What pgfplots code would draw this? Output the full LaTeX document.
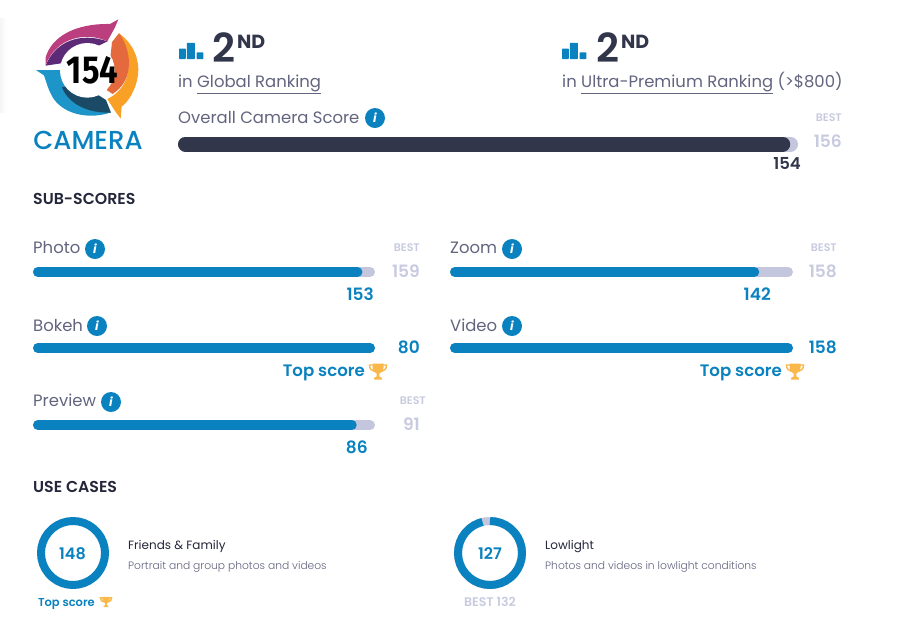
\documentclass[border=0pt]{standalone}
\usepackage{fontspec}
\usepackage{pgfplots}
\pgfplotsset{compat=1.18}
\usepgfplotslibrary{polar}
\usetikzlibrary{calc}
\setmainfont{Poppins}
\newfontfamily\plight{Poppins Light}
\newfontfamily\pmed{Poppins Medium}
\newfontfamily\psemi{Poppins SemiBold}
\newfontfamily\pbold{Poppins Bold}
\newfontfamily\logofont{Fira Sans}
\definecolor{cblue}{HTML}{0A82BF}
\definecolor{cdark}{HTML}{32364A}
\definecolor{chead}{HTML}{24263A}
\definecolor{ctrack}{HTML}{C3C6DD}
\definecolor{cbest}{HTML}{C8CBE0}
\definecolor{ctext}{HTML}{63647F}
\definecolor{cgold}{HTML}{FBB84A}
\definecolor{lteal}{HTML}{1E95C8}
\definecolor{lnavy}{HTML}{1B4A66}
\definecolor{lmag}{HTML}{BB3F7E}
\definecolor{lpur}{HTML}{5D2A77}
\definecolor{lyel}{HTML}{F8A126}
\definecolor{lcor}{HTML}{E46A3D}
\newcommand{\fs}[1]{\fontsize{#1}{#1}\selectfont}
% x, y (centre line), length between cap centres, thickness, best, value, colour
\newcommand{\scorebar}[7]{%
\begin{axis}[at={(#1pt,-#2pt)},anchor=west,scale only axis,width=#3pt,height=4pt,
  hide axis,clip=false,xmin=0,xmax=#5,ymin=0,ymax=1]
  \addplot[line width=#4pt,color=ctrack,line cap=round] coordinates {(0,0.5) (#5,0.5)};
  \addplot[line width=#4pt,color=#7,line cap=round] coordinates {(0,0.5) (#6,0.5)};
\end{axis}}
\newcommand{\info}[2]{%
  \fill[cblue] (#1,#2) circle (10);
  \node[text=white,font=\fs{12}\bfseries\itshape] at (#1,#2) {i};}
\newcommand{\lab}[4][ctext]{\node[anchor=base west,inner sep=0pt,text=#1,font=\fs{#4}] at (#2) {#3};}
\newcommand{\slab}[3]{\node[anchor=base west,inner sep=0pt,text=ctext,font=\plight\fs{#3}] at (#1) {#2};}
\newcommand{\rnum}[4]{\node[anchor=base east,inner sep=0pt,text=#1,font=\psemi\fs{#4}] at (#2) {#3};}
\newcommand{\trophy}[3]{%
\begin{scope}[shift={(#1,#2)},scale=#3]
  \draw[cgold,line width=1.4pt] (-5,-6.5) -- (-8.5,-6.5) .. controls (-8.5,-2.5) and (-6.5,-1) .. (-3.5,0);
  \draw[cgold,line width=1.4pt] (5,-6.5) -- (8.5,-6.5) .. controls (8.5,-2.5) and (6.5,-1) .. (3.5,0);
  \fill[cgold] (-5.5,-8) -- (5.5,-8) -- (5.5,-4) .. controls (5.5,0) and (2,1.5) .. (1.3,2) -- (1.3,5) -- (3.8,6.3) -- (3.8,8) -- (-3.8,8) -- (-3.8,6.3) -- (-1.3,5) -- (-1.3,2) .. controls (-2,1.5) and (-5.5,0) .. (-5.5,-4) -- cycle;
\end{scope}}
\newcommand{\rankicon}[2]{%
  \fill[cblue,rounded corners=0.6pt] (#1,#2+16) rectangle ++(6.8,-10.5);
  \fill[cblue,rounded corners=0.6pt] (#1+7.9,#2+16) rectangle ++(8,-16.2);
  \fill[cblue,rounded corners=0.6pt] (#1+17.6,#2+16) rectangle ++(6.8,-6.6);}
\begin{document}
\begin{tikzpicture}[x=1pt,y=-1pt]
\path[use as bounding box] (0,0) rectangle (911,625);
\fill[white] (0,0) rectangle (911,625);
\shade[left color=black!4,right color=white] (0,18) rectangle (6,112);
% ---- logo
\begin{scope}[scale=1/3]
  \fill[lteal] (108,210) -- (215,210) -- (250,300) -- (333,337)
     .. controls (280,356) and (205,350) .. (165,302) .. controls (148,280) and (140,250) .. (132,226) -- cycle;
  \fill[lnavy] (186,262) .. controls (205,310) and (260,340) .. (333,338)
     -- (318,300) -- (240,250) -- cycle;
  \fill[lmag] (137,172) .. controls (155,110) and (225,70) .. (330,72) -- (355,58)
     -- (345,82) -- (322,124) .. controls (260,95) and (170,110) .. (137,195) -- cycle;
  \fill[lpur] (137,197) .. controls (165,125) and (240,95) .. (322,124) -- (290,140) -- (200,165) -- (183,190) -- cycle;
  \fill[lyel] (357,100) .. controls (400,130) and (420,180) .. (414,225)
     .. controls (408,270) and (385,305) .. (365,320) -- (362,356) -- (345,333) -- (322,297)
     .. controls (360,280) and (385,240) .. (385,205) .. controls (385,170) and (365,135) .. (336,127) -- cycle;
  \fill[lcor] (357,100) .. controls (380,130) and (390,170) .. (386,205) .. controls (383,235) and (368,262) .. (338,282)
     -- (320,270) -- (336,127) -- cycle;
  \fill[white] (262,211) circle (82);
\end{scope}
\node[inner sep=0pt,font=\logofont\bfseries\fs{39},text=black] at (92.5,70) {\scalebox{0.84}[1.0]{154}};
\node[anchor=base,inner sep=0pt,text=cblue,font=\pmed\fs{26}] at (88,149) {CAMERA};
% ---- ranks
\rankicon{179}{43}
\node[anchor=base west,inner sep=0pt,text=cdark,font=\psemi\fs{40}] at (212.5,62) {2};
\node[anchor=base west,inner sep=0pt,text=cdark,font=\pbold\fs{19}] at (237,48) {ND};
\lab{178,87}{in \underline{Global Ranking}}{16.45}
\rankicon{562}{43}
\node[anchor=base west,inner sep=0pt,text=cdark,font=\psemi\fs{40}] at (596.5,62) {2};
\node[anchor=base west,inner sep=0pt,text=cdark,font=\pbold\fs{19}] at (621,48) {ND};
\lab{562,87}{in \underline{Ultra-Premium Ranking} (>\$800)}{16.45}
\lab{178,123}{Overall Camera Score}{16.45}
\info{375}{118}
\scorebar{185.5}{144}{605}{15}{156}{154}{cdark}
\rnum{cbest}{842,121}{BEST}{11}
\rnum{cbest}{842,147.5}{156}{17}
\rnum{cdark}{801,169}{154}{16.5}
% ---- sub scores
\node[anchor=base west,inner sep=0pt,text=chead,font=\psemi\fs{15.8}] at (33,204) {SUB-SCORES};
\lab{33,253}{Photo}{16.45}\info{95}{249}
\rnum{cbest}{420,251}{BEST}{11}
\rnum{cbest}{420,277}{159}{17}
\scorebar{38}{272}{332}{10}{159}{153}{cblue}
\rnum{cblue}{374,300}{153}{17}
\lab{33,331}{Bokeh}{16.45}\info{97}{326}
\rnum{cblue}{420,353}{80}{17}
\scorebar{38}{348}{332}{10}{80}{80}{cblue}
\rnum{cblue}{365,376}{Top score}{16.6}
\trophy{378}{371.5}{1}
\lab{33,406.5}{Preview}{16.45}\info{111}{402}
\rnum{cbest}{426,404}{BEST}{11}
\rnum{cbest}{420,430}{91}{17}
\scorebar{38}{425}{332}{10}{91}{86}{cblue}
\rnum{cblue}{368,453}{86}{17}
\lab{450,253}{Zoom}{16.45}\info{512}{249}
\rnum{cbest}{837,251}{BEST}{11}
\rnum{cbest}{837,277}{158}{17}
\scorebar{455}{272}{333}{10}{158}{142}{cblue}
\rnum{cblue}{771,300}{142}{17}
\lab{450,331}{Video}{16.45}\info{512}{326}
\rnum{cblue}{837,353}{158}{17}
\scorebar{455}{348}{333}{10}{158}{158}{cblue}
\rnum{cblue}{782,376}{Top score}{16.6}
\trophy{795}{371.5}{1}
% ---- use cases
\node[anchor=base west,inner sep=0pt,text=chead,font=\psemi\fs{15.8}] at (33,492) {USE CASES};
\begin{polaraxis}[at={(73pt,-553pt)},anchor=center,scale only axis,width=72pt,height=72pt,hide axis,clip=false,xmin=0,xmax=360,ymin=0,ymax=36]
\addplot[cblue,line width=8pt,line join=round] coordinates {
(90,32)(80,32)(70,32)(60,32)(50,32)(40,32)(30,32)(20,32)(10,32)(0,32)(-10,32)(-20,32)(-30,32)(-40,32)(-50,32)(-60,32)(-70,32)(-80,32)(-90,32)(-100,32)(-110,32)(-120,32)(-130,32)(-140,32)(-150,32)(-160,32)(-170,32)(-180,32)(-190,32)(-200,32)(-210,32)(-220,32)(-230,32)(-240,32)(-250,32)(-260,32)(-270,32)(-280,32)};
\end{polaraxis}
\node[inner sep=0pt,text=cblue,font=\psemi\fs{16}] at (72.5,554) {148};
\rnum{cblue}{95,606}{Top score}{11.5}
\trophy{106}{602}{0.65}
\node[anchor=base west,inner sep=0pt,text=chead,font=\fs{12}] at (128,549) {Friends \& Family};
\slab{128,569}{Portrait and group photos and videos}{10.7}
\begin{polaraxis}[at={(490pt,-553pt)},anchor=center,scale only axis,width=72pt,height=72pt,hide axis,clip=false,xmin=0,xmax=360,ymin=0,ymax=36]
\addplot[ctrack,line width=8pt,line join=round] coordinates {
(90,32)(80,32)(70,32)(60,32)(50,32)(40,32)(30,32)(20,32)(10,32)(0,32)(-10,32)(-20,32)(-30,32)(-40,32)(-50,32)(-60,32)(-70,32)(-80,32)(-90,32)(-100,32)(-110,32)(-120,32)(-130,32)(-140,32)(-150,32)(-160,32)(-170,32)(-180,32)(-190,32)(-200,32)(-210,32)(-220,32)(-230,32)(-240,32)(-250,32)(-260,32)(-270,32)};
\addplot[cblue,line width=8pt,line join=round] coordinates {
(90,32)(80,32)(70,32)(60,32)(50,32)(40,32)(30,32)(20,32)(10,32)(0,32)(-10,32)(-20,32)(-30,32)(-40,32)(-50,32)(-60,32)(-70,32)(-80,32)(-90,32)(-100,32)(-110,32)(-120,32)(-130,32)(-140,32)(-150,32)(-160,32)(-170,32)(-180,32)(-190,32)(-200,32)(-210,32)(-220,32)(-230,32)(-240,32)(-250,32)(-256.4,32)};
\end{polaraxis}
\node[inner sep=0pt,text=cblue,font=\psemi\fs{16}] at (490,554) {127};
\node[anchor=base,inner sep=0pt,text=cbest,font=\psemi\fs{12.5}] at (490,606) {BEST 132};
\node[anchor=base west,inner sep=0pt,text=chead,font=\fs{12}] at (545,549) {Lowlight};
\slab{545,569}{Photos and videos in lowlight conditions}{10.7}
\end{tikzpicture}
\end{document}
